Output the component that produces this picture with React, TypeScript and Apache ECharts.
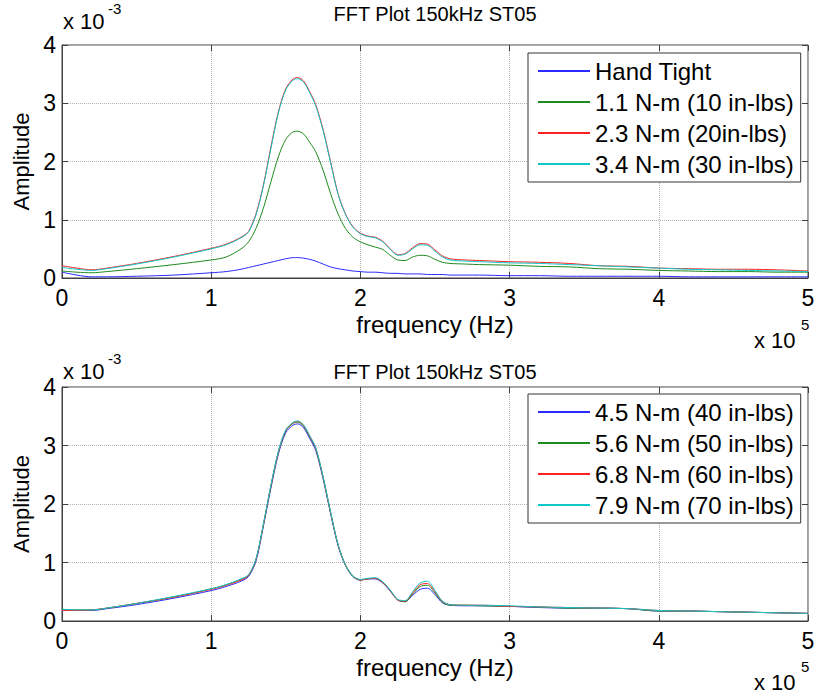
import React, { useEffect, useRef } from "react";
import * as echarts from "echarts";

const FONT = "'Liberation Sans', Arial, Helvetica, sans-serif";
const TITLE = "FFT Plot 150kHz ST05";
const X_TICKS = [0, 1, 2, 3, 4, 5];
const Y_TICKS = [0, 1, 2, 3, 4];

// frequency in units of 1e5 Hz
const FREQ = [0, 0.1, 0.2, 0.3, 0.5, 0.75, 1.0, 1.1, 1.2, 1.25, 1.3, 1.35, 1.4, 1.45, 1.5, 1.55, 1.58, 1.62, 1.66, 1.7, 1.75, 1.8, 1.85, 1.9, 1.95, 2.0, 2.05, 2.1, 2.15, 2.2, 2.25, 2.3, 2.35, 2.4, 2.45, 2.5, 2.55, 2.6, 2.7, 2.8, 3.0, 3.2, 3.4, 3.6, 3.8, 4.0, 4.2, 4.4, 4.6, 4.8, 5.0];

// amplitude in units of 1e-3
const TOP_NAMES = ["Hand Tight", "1.1 N-m (10 in-lbs)", "2.3 N-m (20in-lbs)", "3.4 N-m (30 in-lbs)"];
const HAND_TIGHT = [0.10, 0.05, 0.02, 0.02, 0.03, 0.05, 0.09, 0.11, 0.15, 0.18, 0.21, 0.24, 0.27, 0.30, 0.33, 0.35, 0.35, 0.34, 0.32, 0.29, 0.24, 0.19, 0.16, 0.14, 0.12, 0.11, 0.10, 0.10, 0.09, 0.08, 0.08, 0.07, 0.07, 0.07, 0.06, 0.06, 0.06, 0.05, 0.05, 0.05, 0.04, 0.04, 0.03, 0.03, 0.03, 0.03, 0.02, 0.02, 0.02, 0.02, 0.02];
const NM_1_1 = [0.12, 0.10, 0.09, 0.11, 0.16, 0.23, 0.31, 0.36, 0.50, 0.62, 0.85, 1.20, 1.65, 2.08, 2.38, 2.51, 2.52, 2.47, 2.33, 2.17, 1.85, 1.45, 1.10, 0.85, 0.70, 0.62, 0.57, 0.53, 0.49, 0.39, 0.31, 0.30, 0.36, 0.39, 0.38, 0.32, 0.27, 0.25, 0.24, 0.23, 0.22, 0.20, 0.19, 0.16, 0.15, 0.13, 0.12, 0.11, 0.11, 0.10, 0.10];
const NM_2_3 = [0.21, 0.17, 0.14, 0.17, 0.25, 0.37, 0.51, 0.58, 0.70, 0.80, 1.10, 1.60, 2.25, 2.85, 3.25, 3.42, 3.44, 3.38, 3.20, 2.98, 2.55, 2.00, 1.45, 1.10, 0.88, 0.77, 0.72, 0.70, 0.63, 0.50, 0.40, 0.42, 0.52, 0.59, 0.58, 0.48, 0.38, 0.33, 0.31, 0.30, 0.28, 0.27, 0.25, 0.21, 0.20, 0.17, 0.16, 0.15, 0.15, 0.14, 0.12];
const NM_3_4 = [0.18, 0.15, 0.13, 0.16, 0.24, 0.36, 0.50, 0.57, 0.69, 0.79, 1.08, 1.58, 2.22, 2.83, 3.23, 3.40, 3.42, 3.36, 3.18, 2.96, 2.53, 1.98, 1.44, 1.09, 0.87, 0.76, 0.71, 0.69, 0.62, 0.49, 0.39, 0.41, 0.50, 0.57, 0.56, 0.46, 0.36, 0.31, 0.29, 0.28, 0.26, 0.25, 0.23, 0.21, 0.19, 0.17, 0.15, 0.14, 0.13, 0.12, 0.11];

const BOTTOM_NAMES = ["4.5 N-m (40 in-lbs)", "5.6 N-m (50 in-lbs)", "6.8 N-m (60 in-lbs)", "7.9 N-m (70 in-lbs)"];
const NM_4_5 = [0.19, 0.18, 0.18, 0.21, 0.28, 0.39, 0.52, 0.59, 0.68, 0.76, 1.02, 1.62, 2.27, 2.85, 3.22, 3.35, 3.37, 3.30, 3.12, 2.92, 2.43, 1.84, 1.29, 0.95, 0.76, 0.70, 0.72, 0.72, 0.65, 0.51, 0.36, 0.33, 0.44, 0.54, 0.56, 0.45, 0.31, 0.27, 0.26, 0.26, 0.25, 0.23, 0.22, 0.22, 0.21, 0.17, 0.17, 0.16, 0.15, 0.14, 0.13];
const NM_5_6 = [0.20, 0.19, 0.19, 0.22, 0.30, 0.41, 0.55, 0.62, 0.71, 0.78, 1.05, 1.65, 2.30, 2.88, 3.25, 3.38, 3.40, 3.33, 3.15, 2.95, 2.45, 1.85, 1.30, 0.95, 0.76, 0.70, 0.72, 0.73, 0.66, 0.52, 0.36, 0.33, 0.46, 0.59, 0.61, 0.48, 0.32, 0.27, 0.27, 0.26, 0.25, 0.24, 0.22, 0.22, 0.21, 0.17, 0.17, 0.16, 0.15, 0.14, 0.13];
const NM_6_8 = [0.18, 0.18, 0.19, 0.22, 0.30, 0.41, 0.54, 0.61, 0.70, 0.78, 1.05, 1.65, 2.31, 2.89, 3.26, 3.39, 3.41, 3.34, 3.16, 2.96, 2.46, 1.86, 1.31, 0.96, 0.77, 0.70, 0.72, 0.73, 0.66, 0.52, 0.36, 0.34, 0.48, 0.62, 0.64, 0.50, 0.33, 0.28, 0.27, 0.27, 0.25, 0.24, 0.23, 0.22, 0.21, 0.18, 0.17, 0.16, 0.15, 0.14, 0.13];
const NM_7_9 = [0.20, 0.19, 0.19, 0.22, 0.30, 0.42, 0.55, 0.62, 0.72, 0.79, 1.06, 1.66, 2.32, 2.90, 3.27, 3.40, 3.42, 3.35, 3.17, 2.97, 2.47, 1.87, 1.31, 0.96, 0.77, 0.71, 0.73, 0.74, 0.67, 0.53, 0.37, 0.35, 0.50, 0.65, 0.68, 0.52, 0.34, 0.28, 0.27, 0.27, 0.26, 0.24, 0.23, 0.22, 0.21, 0.18, 0.17, 0.16, 0.15, 0.14, 0.13];

const COLORS = ["#2a2aff", "#1f8a1f", "#ff2020", "#10c8c8"];

const TOP_DATA = [HAND_TIGHT, NM_1_1, NM_2_3, NM_3_4];
const BOTTOM_DATA = [NM_4_5, NM_5_6, NM_6_8, NM_7_9];

const GRIDS = [
  { left: 62, top: 45, width: 746, height: 233 },
  { left: 62, top: 387, width: 746, height: 234 },
];

function xAxisFor(gridIndex: number, top: boolean, showName: boolean) {
  return {
    type: "value",
    gridIndex,
    position: top ? "top" : "bottom",
    min: X_TICKS[0],
    max: X_TICKS[X_TICKS.length - 1],
    interval: 1,
    name: showName ? "frequency (Hz)" : "",
    nameLocation: "middle",
    nameGap: 34,
    nameTextStyle: { fontSize: 24, color: "#000", fontFamily: FONT },
    axisLine: { show: !top, onZero: false, lineStyle: { color: "#404040", width: 1 } },
    axisTick: { show: true, inside: true, length: 6, lineStyle: { color: "#404040" } },
    axisLabel: { show: !top, fontSize: 23, color: "#000", fontFamily: FONT, margin: 8, formatter: (v: number) => String(v) },
    splitLine: { show: !top, lineStyle: { color: "#b4b4b4", type: "dotted", width: 1 } },
  };
}

function yAxisFor(gridIndex: number, right: boolean) {
  return {
    type: "value",
    gridIndex,
    position: right ? "right" : "left",
    min: Y_TICKS[0],
    max: Y_TICKS[Y_TICKS.length - 1],
    interval: 1,
    name: right ? "" : "Amplitude",
    nameLocation: "middle",
    nameGap: 22,
    nameTextStyle: { fontSize: 22, color: "#000", fontFamily: FONT },
    axisLine: { show: !right, onZero: false, lineStyle: { color: "#404040", width: 1 } },
    axisTick: { show: true, inside: true, length: 6, lineStyle: { color: "#404040" } },
    axisLabel: { show: !right, fontSize: 23, color: "#000", fontFamily: FONT, margin: 6, formatter: (v: number) => String(v) },
    splitLine: { show: !right, lineStyle: { color: "#b4b4b4", type: "dotted", width: 1 } },
  };
}

function lineSeries(name: string, values: number[], color: string, axisIndex: number) {
  return {
    type: "line",
    name,
    xAxisIndex: axisIndex,
    yAxisIndex: axisIndex,
    data: FREQ.map((f, i) => [f, values[i]]),
    showSymbol: false,
    symbol: "none",
    smooth: 0.3,
    lineStyle: { width: 1, color },
    itemStyle: { color },
  };
}

function legendFor(names: string[], top: number) {
  return {
    data: names,
    orient: "vertical",
    left: 528,
    top,
    padding: [6, 7, 6, 10],
    itemGap: 7,
    itemWidth: 52,
    itemHeight: 2,
    icon: "rect",
    borderColor: "#333",
    borderWidth: 1,
    borderRadius: 0,
    backgroundColor: "#fff",
    textStyle: { fontSize: 24, lineHeight: 23, color: "#000", fontFamily: FONT },
  };
}

function textEl(text: string, x: number, y: number, size: number, align = "left") {
  return {
    type: "text",
    x,
    y,
    silent: true,
    style: {
      text,
      fontSize: size,
      fontFamily: FONT,
      fill: "#000",
      align,
      verticalAlign: "middle",
      textAlign: align,
      textVerticalAlign: "middle",
    },
  };
}

export default function App() {
  const ref = useRef<HTMLDivElement>(null);
  useEffect(() => {
    if (!ref.current) return;
    const chart = echarts.init(ref.current, undefined, { renderer: "svg" });
    const series = [
      ...TOP_DATA.map((d, i) => lineSeries(TOP_NAMES[i], d, COLORS[i], 0)),
      ...BOTTOM_DATA.map((d, i) => lineSeries(BOTTOM_NAMES[i], d, COLORS[i], 2)),
    ];
    chart.setOption({
      animation: false,
      backgroundColor: "#fff",
      grid: GRIDS.map((g) => ({ ...g, show: true, borderColor: "#404040", borderWidth: 1, backgroundColor: "#fff" })),
      xAxis: [xAxisFor(0, false, true), xAxisFor(0, true, false), xAxisFor(1, false, true), xAxisFor(1, true, false)],
      yAxis: [yAxisFor(0, false), yAxisFor(0, true), yAxisFor(1, false), yAxisFor(1, true)],
      legend: [legendFor(TOP_NAMES, 53), legendFor(BOTTOM_NAMES, 394)],
      series,
      graphic: [
        textEl(TITLE, 435, 14, 20, "center"),
        textEl(TITLE, 435, 372, 20, "center"),
        textEl("x 10", 63, 21, 22),
        textEl("-3", 108, 8, 15),
        textEl("x 10", 63, 371, 22),
        textEl("-3", 108, 358, 15),
        textEl("x 10", 754, 340, 22),
        textEl("5", 801, 324, 15),
        textEl("x 10", 754, 682, 22),
        textEl("5", 801, 666, 15),
      ],
    });
    return () => chart.dispose();
  }, []);
  return <div ref={ref} style={{ position: "fixed", left: 0, top: 0, width: 818, height: 694 }} />;
}
